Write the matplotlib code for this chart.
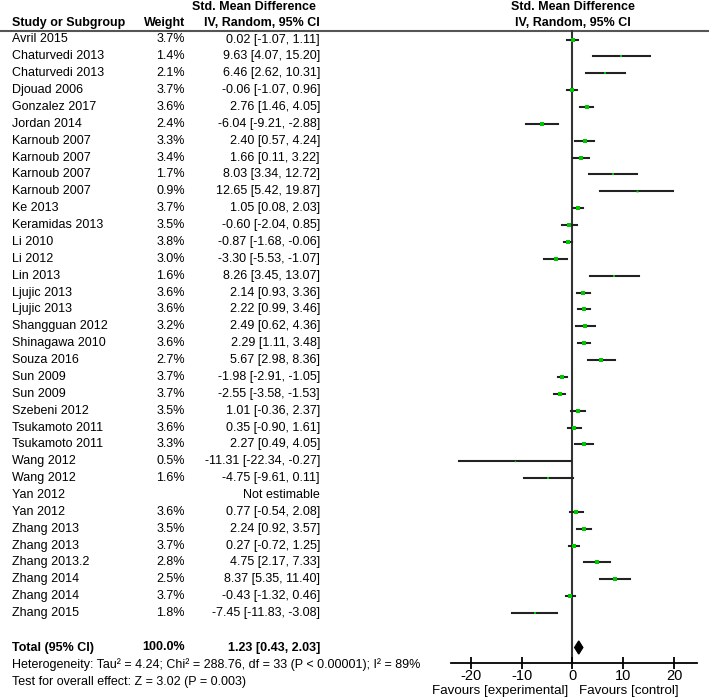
import numpy as np
import matplotlib
matplotlib.use("Agg")
import matplotlib.pyplot as plt

plt.rcParams['font.family'] = ['Liberation Sans', 'DejaVu Sans']

# datos del forest plot
estudios = ["Avril 2015", "Chaturvedi 2013", "Chaturvedi 2013", "Djouad 2006", "Gonzalez 2017",
            "Jordan 2014", "Karnoub 2007", "Karnoub 2007", "Karnoub 2007", "Karnoub 2007",
            "Ke 2013", "Keramidas 2013", "Li 2010", "Li 2012", "Lin 2013",
            "Ljujic 2013", "Ljujic 2013", "Shangguan 2012", "Shinagawa 2010", "Souza 2016",
            "Sun 2009", "Sun 2009", "Szebeni 2012", "Tsukamoto 2011", "Tsukamoto 2011",
            "Wang 2012", "Wang 2012", "Yan 2012", "Yan 2012", "Zhang 2013",
            "Zhang 2013", "Zhang 2013.2", "Zhang 2014", "Zhang 2014", "Zhang 2015"]
pesos = [3.7, 1.4, 2.1, 3.7, 3.6, 2.4, 3.3, 3.4, 1.7, 0.9,
         3.7, 3.5, 3.8, 3.0, 1.6, 3.6, 3.6, 3.2, 3.6, 2.7,
         3.7, 3.7, 3.5, 3.6, 3.3, 0.5, 1.6, np.nan, 3.6, 3.5,
         3.7, 2.8, 2.5, 3.7, 1.8]
smd = [0.02, 9.63, 6.46, -0.06, 2.76, -6.04, 2.40, 1.66, 8.03, 12.65,
       1.05, -0.60, -0.87, -3.30, 8.26, 2.14, 2.22, 2.49, 2.29, 5.67,
       -1.98, -2.55, 1.01, 0.35, 2.27, -11.31, -4.75, np.nan, 0.77, 2.24,
       0.27, 4.75, 8.37, -0.43, -7.45]
ic_inf = [-1.07, 4.07, 2.62, -1.07, 1.46, -9.21, 0.57, 0.11, 3.34, 5.42,
          0.08, -2.04, -1.68, -5.53, 3.45, 0.93, 0.99, 0.62, 1.11, 2.98,
          -2.91, -3.58, -0.36, -0.90, 0.49, -22.34, -9.61, np.nan, -0.54, 0.92,
          -0.72, 2.17, 5.35, -1.32, -11.83]
ic_sup = [1.11, 15.20, 10.31, 0.96, 4.05, -2.88, 4.24, 3.22, 12.72, 19.87,
          2.03, 0.85, -0.06, -1.07, 13.07, 3.36, 3.46, 4.36, 3.48, 8.36,
          -1.05, -1.53, 2.37, 1.61, 4.05, -0.27, 0.11, np.nan, 2.08, 3.57,
          1.25, 7.33, 11.40, 0.46, -3.08]

total_smd, total_inf, total_sup = 1.23, 0.43, 2.03
ticks = [-20, -10, 0, 10, 20]

W, H = 709, 699
fig = plt.figure(figsize=(W / 100, H / 100), dpi=100)

# eje de texto en pixeles
tx = fig.add_axes([0, 0, 1, 1])
tx.set_xlim(0, W)
tx.set_ylim(H, 0)
tx.axis('off')

fs = 9.0
y0, paso = 39.5, 16.87
filas = [y0 + i * paso for i in range(len(estudios))]
y_total = 647.5

# cabecera
tx.text(12, 23, "Study or Subgroup", fontsize=fs, fontweight='bold', va='center')
tx.text(185, 23, "Weight", fontsize=fs, fontweight='bold', va='center', ha='right')
tx.text(254, 7, "Std. Mean Difference", fontsize=fs, fontweight='bold', va='center', ha='center')
tx.text(320, 23, "IV, Random, 95% CI", fontsize=fs, fontweight='bold', va='center', ha='right')
tx.text(573, 7, "Std. Mean Difference", fontsize=fs, fontweight='bold', va='center', ha='center')
tx.text(573, 23, "IV, Random, 95% CI", fontsize=fs, fontweight='bold', va='center', ha='center')
tx.plot([0, W], [31, 31], color='#555555', lw=1.5)

for y, nombre, p, m, a, b in zip(filas, estudios, pesos, smd, ic_inf, ic_sup):
    tx.text(12, y, nombre, fontsize=fs, va='center')
    if np.isnan(m):
        tx.text(320, y, "Not estimable", fontsize=fs, va='center', ha='right')
        continue
    tx.text(185, y, f"{p:.1f}%", fontsize=fs, va='center', ha='right')
    tx.text(320, y, f"{m:.2f} [{a:.2f}, {b:.2f}]", fontsize=fs, va='center', ha='right')

tx.text(12, y_total, "Total (95% CI)", fontsize=fs, fontweight='bold', va='center')
tx.text(185, y_total, "100.0%", fontsize=fs, fontweight='bold', va='center', ha='right')
tx.text(320, y_total, f"{total_smd:.2f} [{total_inf:.2f}, {total_sup:.2f}]",
        fontsize=fs, fontweight='bold', va='center', ha='right')
tx.text(12, 664.5, "Heterogeneity: Tau\u00b2 = 4.24; Chi\u00b2 = 288.76, df = 33 (P < 0.00001); I\u00b2 = 89%",
        fontsize=fs, va='center')
tx.text(12, 681.5, "Test for overall effect: Z = 3.02 (P = 0.003)", fontsize=fs, va='center')

# eje del forest plot
eje_y = 663
x_izq, x_der = 451, 697
ax = fig.add_axes([x_izq / W, (H - eje_y) / H, (x_der - x_izq) / W, eje_y / H])
ax.patch.set_alpha(0)
ax.set_ylim(eje_y, 0)
ax.set_xlim(-23.9, 24.5)
for s in ['top', 'left', 'right']:
    ax.spines[s].set_visible(False)
ax.spines['bottom'].set_linewidth(1.3)
ax.set_yticks([])
ax.set_xticks(ticks)
ax.set_xticklabels([str(t) for t in ticks])
ax.tick_params(axis='x', direction='inout', length=8, width=1.3, labelsize=10.5, pad=0)

ax.plot([0, 0], [31, eje_y], color='#333333', lw=1.5, zorder=1)

for y, p, m, a, b in zip(filas, pesos, smd, ic_inf, ic_sup):
    if np.isnan(m):
        continue
    ax.plot([a, b], [y, y], color='#222222', lw=1.5, zorder=2)
    ax.plot(m, y, marker='s', color='#00c800', markersize=np.sqrt(p) * 1.45,
            markeredgewidth=0, zorder=3)

ax.fill([total_inf, total_smd, total_sup, total_smd],
        [y_total, y_total - 6.5, y_total, y_total + 6.5], color='black', zorder=3)

tx.text(568, 691, "Favours [experimental]", fontsize=9.6, va='center', ha='right')
tx.text(579, 691, "Favours [control]", fontsize=9.6, va='center', ha='left')

fig.savefig("out.png", dpi=100)
